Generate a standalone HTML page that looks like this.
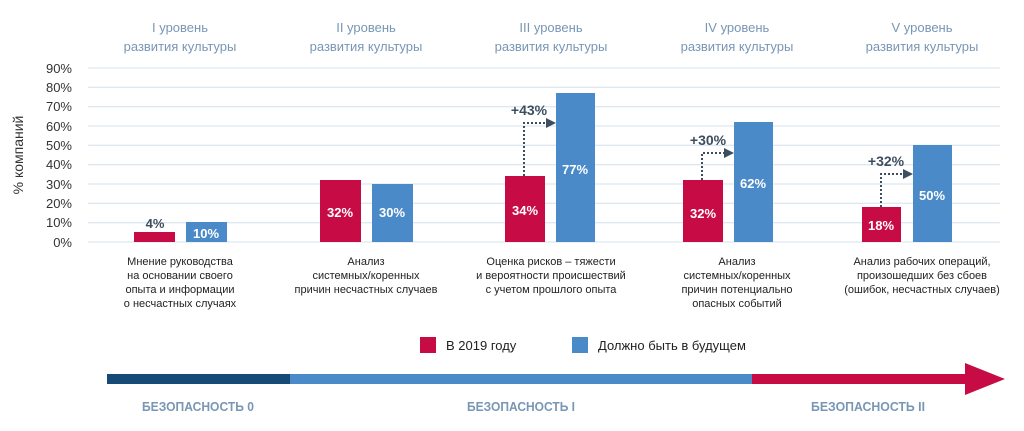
<!DOCTYPE html>
<html><head><meta charset="utf-8"><style>
body{margin:0;background:#fff;width:1024px;height:431px;overflow:hidden}
svg{display:block}
text{font-family:"Liberation Sans","DejaVu Sans",sans-serif}
</style></head><body>
<svg width="1024" height="431" viewBox="0 0 1024 431">
<g fill="#7896b5" font-size="13" text-anchor="middle">
<text x="180" y="32">I уровень</text><text x="180" y="51">развития культуры</text>
<text x="366" y="32">II уровень</text><text x="366" y="51">развития культуры</text>
<text x="551" y="32">III уровень</text><text x="551" y="51">развития культуры</text>
<text x="737" y="32">IV уровень</text><text x="737" y="51">развития культуры</text>
<text x="922" y="32">V уровень</text><text x="922" y="51">развития культуры</text>
</g>
<g stroke="#d3e0ee" stroke-width="1">
<line x1="88" x2="1000" y1="68" y2="68"/><line x1="88" x2="1000" y1="87.3" y2="87.3"/>
<line x1="88" x2="1000" y1="106.7" y2="106.7"/><line x1="88" x2="1000" y1="126" y2="126"/>
<line x1="88" x2="1000" y1="145.3" y2="145.3"/><line x1="88" x2="1000" y1="164.7" y2="164.7"/>
<line x1="88" x2="1000" y1="184" y2="184"/><line x1="88" x2="1000" y1="203.3" y2="203.3"/>
<line x1="88" x2="1000" y1="222.7" y2="222.7"/><line x1="88" x2="1000" y1="242" y2="242"/>
</g>
<g fill="#333" font-size="13" text-anchor="end">
<text x="72" y="73">90%</text><text x="72" y="92">80%</text><text x="72" y="111">70%</text>
<text x="72" y="131">60%</text><text x="72" y="150">50%</text><text x="72" y="169">40%</text>
<text x="72" y="189">30%</text><text x="72" y="208">20%</text><text x="72" y="227">10%</text><text x="72" y="247">0%</text>
</g>
<text transform="translate(23,155) rotate(-90)" font-size="14" fill="#333" text-anchor="middle">% компаний</text>
<g fill="#c60b45">
<rect x="134" y="232" width="41" height="10"/>
<rect x="320" y="180" width="41" height="62"/>
<rect x="505" y="176" width="40" height="66"/>
<rect x="683" y="180" width="40" height="62"/>
<rect x="862" y="207" width="39" height="35"/>
</g>
<g fill="#4a8ac9">
<rect x="186" y="222" width="41" height="20"/>
<rect x="372" y="184" width="41" height="58"/>
<rect x="556" y="93" width="39" height="149"/>
<rect x="734" y="122" width="39" height="120"/>
<rect x="913" y="145" width="39" height="97"/>
</g>
<g fill="#fff" font-size="13" font-weight="bold" text-anchor="middle">
<text x="206" y="238">10%</text>
<text x="340" y="217">32%</text><text x="392" y="217">30%</text>
<text x="525" y="215">34%</text><text x="575" y="174">77%</text>
<text x="703" y="218">32%</text><text x="753" y="188">62%</text>
<text x="881" y="230">18%</text><text x="932" y="200">50%</text>
</g>
<text x="155" y="228" font-size="13" font-weight="bold" fill="#3d4e60" text-anchor="middle">4%</text>
<g stroke="#3d4e60" stroke-width="2" stroke-dasharray="2,2" fill="none">
<path d="M524 176 V123 H548"/><path d="M702 180 V153 H726"/><path d="M881 207 V174 H905"/>
</g>
<g fill="#3d4e60">
<polygon points="546,118 556,123 546,128"/><polygon points="724,148 734,153 724,158"/><polygon points="903,169 913,174 903,179"/>
</g>
<g fill="#3d4e60" font-size="14" font-weight="bold" text-anchor="middle">
<text x="529" y="115">+43%</text><text x="708" y="145">+30%</text><text x="886" y="166">+32%</text>
</g>
<g fill="#222" font-size="11" text-anchor="middle">
<text x="180" y="265">Мнение руководства</text><text x="180" y="279">на основании своего</text><text x="180" y="293">опыта и информации</text><text x="180" y="307">о несчастных случаях</text>
<text x="366" y="265">Анализ</text><text x="366" y="279">системных/коренных</text><text x="366" y="293">причин несчастных случаев</text>
<text x="551" y="265">Оценка рисков – тяжести</text><text x="551" y="279">и вероятности происшествий</text><text x="551" y="293">с учетом прошлого опыта</text>
<text x="737" y="265">Анализ</text><text x="737" y="279">системных/коренных</text><text x="737" y="293">причин потенциально</text><text x="737" y="307">опасных событий</text>
<text x="922" y="265">Анализ рабочих операций,</text><text x="922" y="279">произошедших без сбоев</text><text x="922" y="293">(ошибок, несчастных случаев)</text>
</g>
<rect x="420" y="337" width="16" height="16" fill="#c60b45"/>
<text x="446" y="350" font-size="13" fill="#222">В 2019 году</text>
<rect x="572" y="337" width="16" height="16" fill="#4a8ac9"/>
<text x="598" y="350" font-size="13" fill="#222">Должно быть в будущем</text>
<rect x="107" y="374" width="183" height="10" fill="#164a77"/>
<rect x="290" y="374" width="462" height="10" fill="#4a8ac9"/>
<rect x="752" y="374" width="216" height="10" fill="#c60b45"/>
<polygon points="965,363 1005,379 965,395" fill="#c60b45"/>
<g fill="#7896b5" font-size="13" font-weight="bold" text-anchor="middle">
<text x="198" y="411" textLength="112" lengthAdjust="spacingAndGlyphs">БЕЗОПАСНОСТЬ 0</text>
<text x="521" y="411" textLength="108" lengthAdjust="spacingAndGlyphs">БЕЗОПАСНОСТЬ I</text>
<text x="868" y="411" textLength="114" lengthAdjust="spacingAndGlyphs">БЕЗОПАСНОСТЬ II</text>
</g>
</svg>
</body></html>
